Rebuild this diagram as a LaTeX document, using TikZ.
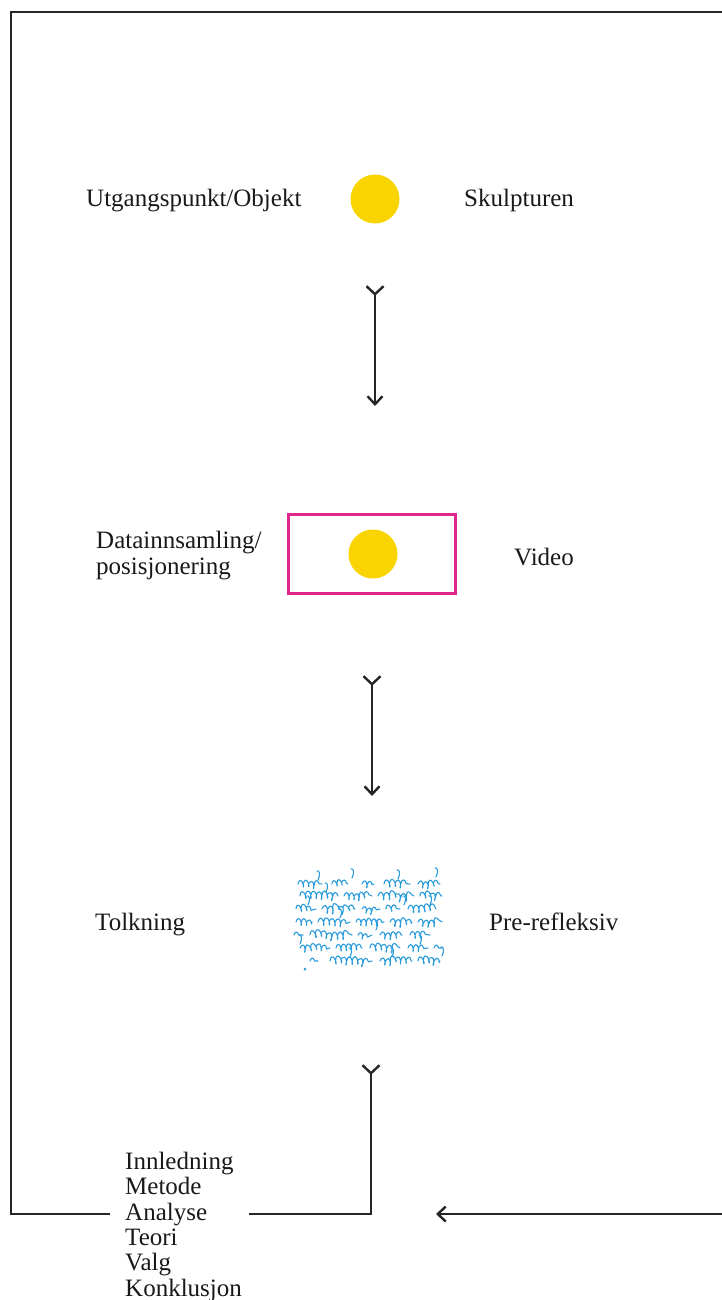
\documentclass[tikz,border=0pt]{standalone}
\usepackage{fontspec}
\setmainfont{Liberation Serif}
\usetikzlibrary{arrows.meta,decorations.pathmorphing}
\definecolor{ink}{HTML}{262626}
\definecolor{sun}{HTML}{FAD400}
\definecolor{rose}{HTML}{E0268C}
\definecolor{quill}{HTML}{2A9CDB}
\tikzset{
  lbl/.style={anchor=base west, inner sep=0pt, text=black!90,
    font=\fontsize{25}{25.3}\selectfont, align=left},
  dot/.style={circle, fill=sun, minimum size=49pt, inner sep=0pt},
  flowline/.style={draw=ink, line width=2.4pt},
  flow/.style={flowline,
    {Straight Barb[reversed,length=8pt,width=17pt]}-{Straight Barb[length=8pt,width=15pt]}},
  scribble/.style={draw=quill, line width=1.1pt, line cap=round, line join=round},
}
\begin{document}
\begin{tikzpicture}[x=1pt, y=-1pt]
\useasboundingbox (0,0) rectangle (721,1300);
\pgfmathsetseed{7}

% step 1: starting object
\node[dot] (obj) at (375,199) {};
\node[lbl] (objL) at (86,207) {Utgangspunkt/Objekt};
\node[lbl] (objR) at (464,207) {Skulpturen};

\coordinate (a1s) at (375,285);
\coordinate (a1e) at (375,406);
\draw[flow] (a1s) -- (a1e);

% step 2: data collection
\node[draw=rose, line width=2.4pt, minimum width=167pt, minimum height=79pt,
  inner sep=0pt] (frame2) at (372,554) {};
\node[dot] (vid) at (373,554) {};
\node[lbl] (vidL) at (96,574) {Datainnsamling/\\posisjonering};
\node[lbl] (vidR) at (514,565) {Video};

\coordinate (a2s) at (372,675);
\coordinate (a2e) at (372,796);
\draw[flow] (a2s) -- (a2e);

% step 3: interpretation (handwritten notes)
\foreach \y/\a/\b/\amp/\seg in {
  884/298/322/3.4/5.4, 884/332/348/3/5, 884/362/374/3.4/5.2, 884/384/410/3.8/5.6, 884/418/440/3.4/5.2,
  896/300/338/3.8/5.5, 896/344/372/3.4/5.1, 896/378/414/3.8/5.8, 896/420/442/3.4/5.3,
  909/296/316/3.4/5.2, 909/322/355/3.8/5.6, 909/362/380/3/5, 909/386/400/3.4/5.4, 909/408/436/3.8/5.5,
  922/296/312/3.4/5.3, 922/318/350/3.8/5.7, 922/356/384/3.4/5.2, 922/390/412/3.8/5.4, 922/418/442/3.4/5.5,
  935/294/303/3/5, 935/310/352/3.8/5.6, 935/358/372/3/5, 935/380/402/3.4/5.4, 935/410/430/3.4/5.2,
  948/300/330/3.4/5.5, 948/336/362/3.4/5.1, 948/370/400/3.8/5.6, 948/408/428/3.4/5.3, 948/434/442/3/5,
  961/310/318/3/5, 961/330/372/3.8/5.6, 961/380/412/3.4/5.3, 961/418/440/3.8/5.4}
  \draw[scribble] decorate[decoration={coil, aspect=0.35, amplitude=\amp pt, segment length=\seg pt}]
    {decorate[decoration={random steps, segment length=6pt, amplitude=1.4pt}]{(\a,\y) -- (\b,\y)}};
\foreach \x/\y in {318/880, 352/878, 398/879, 436/877, 326/892, 404/905, 430/905, 340/918, 376/930, 300/944, 420/944, 350/957, 392/957, 442/956, 308/905}
  \draw[scribble] (\x,\y) .. controls (\x+3,\y-6) and (\x+1,\y-10) .. (\x-1,\y-9);
\fill[quill] (305,969) circle (1.5pt);
\node[lbl] (notesL) at (95,930) {Tolkning};
\node[lbl] (notesR) at (489,930) {Pre-refleksiv};

% step 4: writing up, loop back to the start
\coordinate (a3s) at (371,1064);
\coordinate (listR) at (249,1214);
\draw[flowline, {Straight Barb[reversed,length=8pt,width=17pt]}-] (a3s) |- (listR);
\node[lbl] (list) at (125,1296) {Innledning\\Metode\\Analyse\\Teori\\Valg\\Konklusjon};
\coordinate (listL) at (110,1214);
\coordinate (cornerBL) at (11,1214);
\coordinate (cornerTL) at (11,12);
\coordinate (cornerTR) at (722,12);
\draw[flowline, line join=miter] (listL) -- (cornerBL) -- (cornerTL) -- (cornerTR);
\coordinate (retS) at (722,1214);
\coordinate (retE) at (436,1214);
\draw[flowline, -{Straight Barb[length=8pt,width=15pt]}] (retS) -- (retE);
\end{tikzpicture}
\end{document}
